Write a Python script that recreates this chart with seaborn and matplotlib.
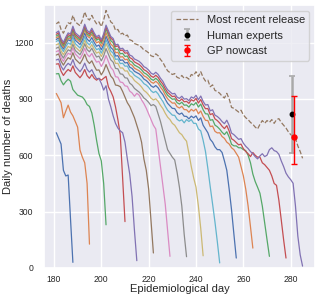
import matplotlib
matplotlib.use("Agg")
import matplotlib.pyplot as plt
import seaborn as sns
import pandas as pd

# ---------------- data ----------------
first_day = 181
# most recent release, daily deaths for days 181..285
final_deaths = [
    1300, 1310, 1270, 1250, 1280, 1305, 1300, 1345, 1310, 1300,   # 181-190
    1290, 1320, 1363, 1330, 1320, 1345, 1320, 1300, 1310, 1285,   # 191-200
    1320, 1371, 1340, 1310, 1300, 1265, 1270, 1245, 1250, 1235,   # 201-210
    1240, 1215, 1210, 1195, 1190, 1185, 1175, 1160, 1155, 1145,   # 211-220
    1130, 1125, 1140, 1130, 1110, 1095, 1070, 1050, 1040, 1030,   # 221-230
    1035, 1015, 1010, 1025, 1010, 1015, 1005, 1030, 1025, 1045,   # 231-240
    1020, 1045, 1015, 995, 1000, 965, 975, 945, 940, 930,          # 241-250
    915, 905, 930, 900, 855, 850, 840, 830, 840, 815,              # 251-260
    800, 790, 775, 765, 750, 740, 765, 785, 770, 785,              # 261-270
    775, 790, 770, 790, 795, 775, 760, 745, 725, 710,              # 271-280
    700, 690, 650, 620, 584,                                       # 281-285
]

# day of each earlier data release
release_days = [188, 195, 202, 210, 215, 222, 229, 236, 243, 250, 257, 264, 271, 278, 285]

# values of each release over its last (up to) 15 days, ending on the release day
release_tails = [
    [720, 690, 660, 520, 490, 495, 260, 30],
    [929, 905, 880, 800, 835, 867, 830, 810, 780, 750, 628, 590, 560, 450, 127],
    [950, 935, 920, 915, 910, 895, 870, 860, 825, 760, 680, 610, 570, 450, 230],
    [1030, 1010, 1000, 1010, 1000, 1010, 1020, 964, 940, 911, 858, 790, 710, 480, 247],
    [947, 970, 900, 858, 810, 770, 745, 730, 720, 670, 580, 500, 380, 200, 39],
    [965, 940, 910, 880, 860, 830, 800, 760, 720, 670, 580, 520, 420, 250, 80],
    [930, 920, 895, 875, 850, 820, 790, 760, 740, 640, 540, 440, 340, 200, 62],
    [870, 860, 820, 780, 730, 680, 630, 610, 590, 575, 510, 430, 330, 180, 60],
    [790, 770, 760, 740, 720, 710, 690, 675, 610, 540, 480, 430, 330, 210, 65],
    [790, 780, 790, 770, 770, 740, 730, 680, 620, 530, 433, 340, 245, 140, 27],
    [760, 740, 720, 685, 670, 645, 630, 630, 615, 570, 520, 420, 310, 180, 53],
    [720, 700, 690, 670, 660, 640, 630, 610, 590, 540, 490, 420, 330, 220, 106],
    [650, 640, 640, 630, 625, 600, 560, 500, 460, 430, 398, 330, 240, 150, 62],
    [615, 600, 590, 590, 560, 550, 535, 520, 490, 450, 440, 360, 256, 150, 53],
    [630, 640, 625, 620, 605, 570, 540, 505, 485, 470, 451, 330, 170, 70, 10],
]

# share of the most recent count already reported, 15..104 days before a release
completeness_by_lag = [
    0.765, 0.770, 0.775, 0.780, 0.785, 0.790, 0.795, 0.800, 0.805, 0.810,  # 15-24
    0.815, 0.820, 0.825, 0.830, 0.835, 0.840, 0.843, 0.846, 0.849, 0.852,  # 25-34
    0.855, 0.858, 0.861, 0.864, 0.867, 0.870, 0.872, 0.874, 0.876, 0.878,  # 35-44
    0.880, 0.882, 0.884, 0.886, 0.888, 0.890, 0.892, 0.894, 0.896, 0.898,  # 45-54
    0.900, 0.902, 0.904, 0.906, 0.908, 0.910, 0.912, 0.914, 0.916, 0.918,  # 55-64
    0.920, 0.922, 0.924, 0.926, 0.928, 0.930, 0.931, 0.932, 0.933, 0.934,  # 65-74
    0.935, 0.936, 0.937, 0.938, 0.939, 0.940, 0.941, 0.942, 0.943, 0.944,  # 75-84
    0.945, 0.946, 0.947, 0.948, 0.949, 0.950, 0.951, 0.952, 0.953, 0.954,  # 85-94
    0.955, 0.956, 0.957, 0.958, 0.959, 0.960, 0.961, 0.962, 0.963, 0.964,  # 95-104
]

expert_day, expert_value, expert_err = 280.5, 818, 206
gp_day, gp_value, gp_err_low, gp_err_high = 281.4, 699, 147, 217

# ---------------- build table ----------------
rows = []
for rel, tail in zip(release_days, release_tails):
    for day in range(first_day, rel + 1):
        lag = rel - day
        if lag < len(tail):
            val = tail[len(tail) - 1 - lag]
        else:
            val = final_deaths[day - first_day] * completeness_by_lag[lag - 15]
        rows.append({"day": day, "deaths": val, "release": str(rel)})
df = pd.DataFrame(rows)
final_df = pd.DataFrame({"day": list(range(first_day, first_day + len(final_deaths))),
                         "deaths": final_deaths})

# ---------------- plot ----------------
sns.set_theme(style="darkgrid")
plt.rcParams["font.family"] = ["Liberation Sans", "DejaVu Sans"]

fig = plt.figure(figsize=(3.2, 3.02), dpi=100)
ax = fig.add_axes([0.1375, 0.1126, 0.8465, 0.8708])

deep = sns.color_palette("deep", 10)
palette = [deep[i % 10] for i in range(len(release_days))]
sns.lineplot(data=df, x="day", y="deaths", hue="release",
             hue_order=[str(r) for r in release_days], palette=palette,
             estimator=None, errorbar=None, legend=False, linewidth=0.9, ax=ax)
sns.lineplot(data=final_df, x="day", y="deaths", color=deep[len(release_days) % 10],
             linestyle="--", linewidth=0.9, label="Most recent release", ax=ax)

ax.errorbar([expert_day], [expert_value], yerr=[[expert_err], [expert_err]], fmt="o",
            color="black", ecolor="darkgray", elinewidth=1.8, capsize=2.2, capthick=1.2,
            markersize=3.2, label="Human experts", zorder=5)
ax.errorbar([gp_day], [gp_value], yerr=[[gp_err_low], [gp_err_high]], fmt="o",
            color="red", ecolor="red", elinewidth=1.0, capsize=2.2, capthick=1.0,
            markersize=3.6, label="GP nowcast", zorder=6)

ax.set_xlim(175.8, 290.2)
ax.set_ylim(0, 1400)
ax.set_xticks([180, 200, 220, 240, 260, 280])
ax.set_yticks([0, 300, 600, 900, 1200])
ax.tick_params(axis="both", length=0)
ax.tick_params(axis="x", labelsize=6.2, pad=5.0)
ax.tick_params(axis="y", labelsize=6.2, pad=7.7)
ax.set_xlabel("Epidemiological day", fontsize=8)
ax.set_ylabel("Daily number of deaths", fontsize=8)
ax.xaxis.set_label_coords(0.5, -0.062)
ax.yaxis.set_label_coords(-0.113, 0.5)
ax.legend(loc="upper right", fontsize=8)

fig.savefig("out.png", dpi=100)
